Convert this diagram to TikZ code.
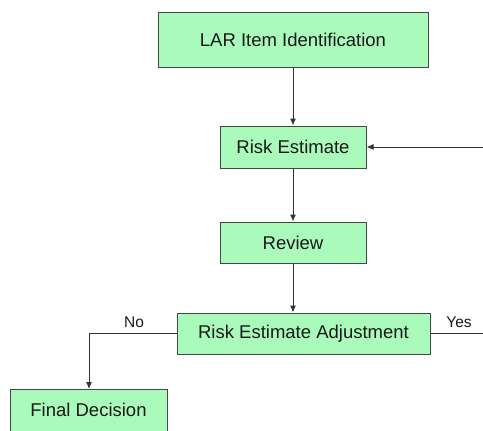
\documentclass[tikz,border=0pt]{standalone}
\usepackage{fontspec}
\setmainfont{Liberation Sans}
\usetikzlibrary{arrows.meta}
\definecolor{boxgreen}{RGB}{170,251,187}
\definecolor{boxline}{RGB}{70,70,70}
\begin{document}
\begin{tikzpicture}[x=1pt,y=-1pt,
  box/.style={draw=boxline,line width=1pt,fill=boxgreen,inner sep=0pt,font=\fontsize{18.5}{21}\selectfont,text=black!90},
  conn/.style={line width=1pt,draw=black!80,-{Latex[length=7pt,width=6pt]}},
  plain/.style={line width=1pt,draw=black!80},
  lbl/.style={font=\fontsize{15.5}{18}\selectfont,text=black!90}]
\useasboundingbox (0,0) rectangle (483,431);
\clip (0,0) rectangle (483,431);
\node[box,minimum width=270pt,minimum height=55pt] (lar) at (293,39.5) {LAR Item Identification};
\node[box,minimum width=146pt,minimum height=42pt] (risk) at (293,147) {Risk Estimate};
\node[box,minimum width=146pt,minimum height=41pt] (rev) at (293,242.5) {Review};
\node[box,minimum width=253pt,minimum height=41pt] (adj) at (303.5,333.5) {Risk Estimate Adjustment};
\node[box,minimum width=157pt,minimum height=44pt,anchor=north] (fin) at (88.5,389) {};
\node[font=\fontsize{18.5}{21}\selectfont,text=black!90] (fintext) at (88.5,410) {Final Decision};
\coordinate (ret) at (490,147);
\coordinate (yesend) at (490,333.5);
\coordinate (nocorner) at (89,333.5);
\draw[conn] (lar) -- (risk);
\draw[conn] (risk) -- (rev);
\draw[conn] (rev.south) -- (rev.south |- adj.north);
\draw[conn] (ret) -- (risk);
\draw[plain] (adj) -- (yesend);
\draw[conn] (adj.west) -- (nocorner) -- (fin.north -| nocorner);
\node[lbl] (no) at (134,322) {No};
\node[lbl] (yes) at (459,322) {Yes};
\end{tikzpicture}
\end{document}
